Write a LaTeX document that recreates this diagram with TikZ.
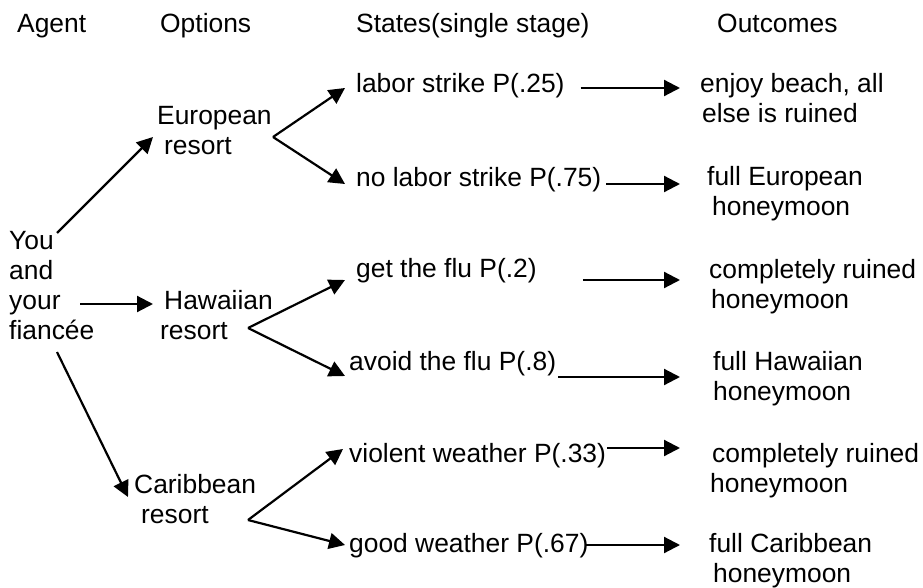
\documentclass[tikz,border=0pt]{standalone}
\usepackage{fontspec}
\setmainfont{Liberation Sans}
\usetikzlibrary{arrows.meta}

\begin{document}
\begin{tikzpicture}[x=1pt,y=-1pt,
	txt/.style={anchor=base west,inner sep=0pt,align=left,font=\fontsize{26.4}{30}\selectfont},
	vect/.style={-{Triangle[length=16pt,width=16pt]},line width=2.2pt}]
		\useasboundingbox (0,0) rectangle (923,588);% page of the picture
		% column heads
		\node[txt] (agenthd) at (17,33) {Agent};
		\node[txt] (opthd) at (160,33) {Options};
		\node[txt] (statehd) at (356,33) {States(single stage)};
		\node[txt] (outhd) at (717,33) {Outcomes};
		% agent and options (base = last line)
		\node[txt] (agent) at (9,339) {You\\and\\your\\fiancée};
		\node[txt] (eu) at (157,155) {European\\\hspace*{7pt}resort};
		\node[txt] (hw) at (160,339) {\hspace*{4pt}Hawaiian\\resort};
		\node[txt] (cb) at (134,523) {Caribbean\\\hspace*{7pt}resort};
		% states
		\node[txt] (s1) at (356,93) {labor strike P(.25)};
		\node[txt] (s2) at (356,187) {no labor strike P(.75)};
		\node[txt] (s3) at (356,277) {get the flu P(.2)};
		\node[txt] (s4) at (349,370) {avoid the flu P(.8)};
		\node[txt] (s5) at (349,462) {violent weather P(.33)};
		\node[txt] (s6) at (349,552) {good weather P(.67)};
		% outcomes
		\node[txt] (o1) at (700,123) {enjoy beach, all\\\hspace*{2pt}else is ruined};
		\node[txt] (o2) at (707,215) {full European\\\hspace*{5pt}honeymoon};
		\node[txt] (o3) at (709,308) {completely ruined\\\hspace*{2pt}honeymoon};
		\node[txt] (o4) at (713,400) {full Hawaiian\\honeymoon};
		\node[txt] (o5) at (710,492) {\hspace*{2pt}completely ruined\\honeymoon};
		\node[txt] (o6) at (709,582) {full Caribbean\\\hspace*{4pt}honeymoon};
		% fork points
		\coordinate (eufork) at (273,137);
		\coordinate (hwfork) at (248,328);
		\coordinate (cbfork) at (248,520);
		% agent to options
		\draw[vect] ([shift={(48,-106)}]agent.base west) -- ([shift={(-4,-18)}]eu.base west);
		\draw[vect] ([shift={(71,-35)}]agent.base west) -- ([shift={(-7,-35)}]hw.base west);
		\draw[vect] ([shift={(48,13)}]agent.base west) -- ([shift={(-6,-26)}]cb.base west);
		% options to states
		\draw[vect] (eufork) -- ([shift={(-11,-5)}]s1.base west);
		\draw[vect] (eufork) -- ([shift={(-11,-3)}]s2.base west);
		\draw[vect] (hwfork) -- ([shift={(-11,3)}]s3.base west);
		\draw[vect] (hwfork) -- ([shift={(-4,6)}]s4.base west);
		\draw[vect] (cbfork) -- ([shift={(-6,-13)}]s5.base west);
		\draw[vect] (cbfork) -- ([shift={(-4,-7)}]s6.base west);
		% states to outcomes
		\draw[vect] ([shift={(16,-5)}]s1.base east) -- ([shift={(-20,-35)}]o1.base west);
		\draw[vect] ([shift={(5,-3)}]s2.base east) -- ([shift={(-27,-31)}]o2.base west);
		\draw[vect] ([shift={(46,3)}]s3.base east) -- ([shift={(-29,-28)}]o3.base west);
		\draw[vect] ([shift={(2,7)}]s4.base east) -- ([shift={(-33,-23)}]o4.base west);
		\draw[vect] ([shift={(1,-14)}]s5.base east) -- ([shift={(-30,-44)}]o5.base west);
		\draw[vect] ([shift={(-3,-7)}]s6.base east) -- ([shift={(-29,-37)}]o6.base west);
	\end{tikzpicture}
\end{document}
